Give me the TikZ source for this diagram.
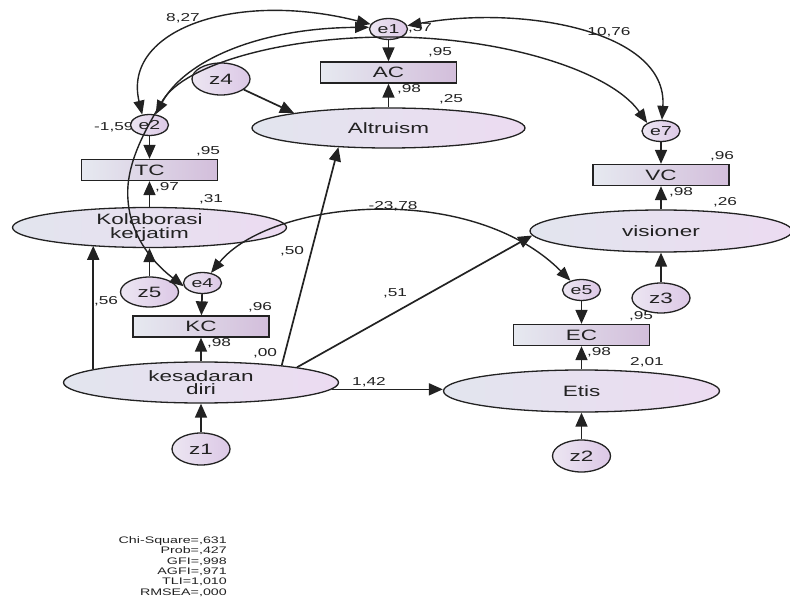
\documentclass[tikz,border=0pt]{standalone}
\usepackage{fontspec}
\usepackage{graphicx}
\setmainfont{Liberation Sans}
\usetikzlibrary{shapes.geometric,arrows.meta}

\definecolor{ink}{HTML}{222222}
\definecolor{latL}{HTML}{E2E5EE}
\definecolor{latR}{HTML}{ECDBF1}
\definecolor{boxL}{HTML}{E6E9F0}
\definecolor{boxR}{HTML}{D3BEDB}
\definecolor{errL}{HTML}{ECE6F2}
\definecolor{errR}{HTML}{DCC8E6}

% the labels of this diagram are set in a horizontally widened face
\newcommand{\hx}[1]{\scalebox{1.5}[1]{#1}}

\tikzset{
  latent/.style={ellipse, draw=ink, line width=1.3pt, left color=latL, right color=latR,
    inner sep=0pt, align=center, text=ink, font=\fontsize{15}{13.5}\selectfont},
  obsbox/.style={rectangle, draw=ink, line width=1.3pt, left color=boxL, right color=boxR,
    inner sep=0pt, minimum width=136pt, minimum height=21pt, text=ink,
    font=\fontsize{15}{15}\selectfont},
  errnode/.style={ellipse, draw=ink, line width=1.3pt, left color=errL, right color=errR,
    inner sep=0pt, minimum width=38pt, minimum height=21pt, text=ink,
    font=\fontsize{13}{13}\selectfont},
  distnode/.style={ellipse, draw=ink, line width=1.3pt, left color=errL, right color=errR,
    inner sep=0pt, minimum width=58pt, minimum height=32pt, text=ink,
    font=\fontsize{15}{15}\selectfont},
  coef/.style={text=ink, inner sep=0pt, font=\fontsize{11.5}{12}\selectfont},
  arr/.style={draw=ink, line width=1.7pt, -{Triangle[length=14pt,width=12pt]}},
  cov/.style={draw=ink, line width=1.4pt,
    {Triangle[length=14pt,width=11pt]}-{Triangle[length=14pt,width=11pt]}},
}

\begin{document}
\begin{tikzpicture}[x=1pt,y=-1pt]
\useasboundingbox (0,0) rectangle (790,604);

% path coefficients and variances
\node[coef] (l827) at (183,18) {\hx{8,27}};
\node[coef] (l1076) at (609,32) {\hx{10,76}};
\node[coef] (l37) at (420,28) {\hx{,37}};
\node[coef] (l95a) at (440,52) {\hx{,95}};
\node[coef] (l98a) at (409,89) {\hx{,98}};
\node[coef] (l25) at (451,99) {\hx{,25}};
\node[coef, anchor=west] (l159) at (94,127) {\hx{-1,59}};
\node[coef] (l95t) at (208,151) {\hx{,95}};
\node[coef] (l97) at (167,187) {\hx{,97}};
\node[coef] (l31) at (211,199) {\hx{,31}};
\node[coef] (l2378) at (393,206) {\hx{-23,78}};
\node[coef] (l50) at (292,251) {\hx{,50}};
\node[coef] (l56) at (106,301) {\hx{,56}};
\node[coef] (l96k) at (260,307) {\hx{,96}};
\node[coef] (l98k) at (219,343) {\hx{,98}};
\node[coef] (l00) at (265,353) {\hx{,00}};
\node[coef] (l51) at (395,293) {\hx{,51}};
\node[coef] (l96v) at (722,156) {\hx{,96}};
\node[coef] (l98v) at (681,192) {\hx{,98}};
\node[coef] (l26) at (725,202) {\hx{,26}};
\node[coef] (l95e) at (641,316) {\hx{,95}};
\node[coef] (l98e) at (599,352) {\hx{,98}};
\node[coef] (l201) at (647,362) {\hx{2,01}};
\node[coef] (l142) at (369,382) {\hx{1,42}};

% latent variables
\node[latent, minimum width=273pt, minimum height=40pt] (alt) at (388.5,128) {\hx{Altruism}};
\node[latent, minimum width=274pt, minimum height=40pt] (kol) at (149.5,227.5) {\hx{Kolaborasi}\\\hx{kerjatim}};
\node[latent, minimum width=275pt, minimum height=41pt] (kd) at (201,382.5) {\hx{kesadaran}\\\hx{diri}};
\node[latent, minimum width=276pt, minimum height=42pt] (etis) at (581.5,391) {\hx{Etis}};
\node[latent, minimum width=262pt, minimum height=42pt] (vis) at (661,231) {\hx{visioner}};

% observed indicators
\node[obsbox] (AC) at (388.5,72.5) {\hx{AC}};
\node[obsbox] (TC) at (149.5,170) {\hx{TC}};
\node[obsbox] (KC) at (201,326.5) {\hx{KC}};
\node[obsbox] (EC) at (581.5,335) {\hx{EC}};
\node[obsbox] (VC) at (661,175) {\hx{VC}};

% measurement errors
\node[errnode] (e1) at (388.5,29) {\hx{e1}};
\node[errnode] (e2) at (149.5,125) {\hx{e2}};
\node[errnode] (e4) at (202.5,283) {\hx{e4}};
\node[errnode] (e5) at (581.5,290) {\hx{e5}};
\node[errnode] (e7) at (661,131) {\hx{e7}};

% disturbances
\node[distnode] (z4) at (221,79) {\hx{z4}};
\node[distnode, minimum height=30pt] (z5) at (149.5,292) {\hx{z5}};
\node[distnode] (z1) at (201,449) {\hx{z1}};
\node[distnode] (z2) at (581.5,456) {\hx{z2}};
\node[distnode, minimum height=30pt] (z3) at (661,298) {\hx{z3}};

% indicator paths
\draw[arr] (e1) -- (AC);
\draw[arr] (alt) -- (AC);
\draw[arr] (e2) -- (TC);
\draw[arr] (kol) -- (TC);
\draw[arr] (e4) -- (KC);
\draw[arr] (kd) -- (KC);
\draw[arr] (e5) -- (EC);
\draw[arr] (etis) -- (EC);
\draw[arr] (e7) -- (VC);
\draw[arr] (vis) -- (VC);

% disturbance paths
\draw[arr] (z5) -- (kol);
\draw[arr] (z1) -- (kd);
\draw[arr] (z2) -- (etis);
\draw[arr] (z3) -- (vis);
\draw[arr] (z4) -- (alt.171.7);

% structural paths from kesadaran diri
\draw[arr] (kd.173.8) -- (kd.173.8 |- kol.196.8);
\draw[arr] (kd.12.7) -- (alt.201.5);
\draw[arr] (kd.9.6) -- (vis.182);
\draw[arr] (kd.-3.9) -- (kd.-3.9 -| etis.west);

% covariances between errors
\draw[cov] (e2.125) .. controls (122,30) and (235,-10) .. (e1.165);
\draw[cov] (e2.60) .. controls (185,60) and (260,28) .. (e1.175);
\draw[cov] (e1.10) .. controls (520,5) and (668,30) .. (e7.85);
\draw[cov] (e7.150) .. controls (610,70) and (500,37) .. (389,37)
  .. controls (280,37) and (185,65) .. (163,100)
  .. controls (145,130) and (125,165) .. (128,200)
  .. controls (131,245) and (165,272) .. (e4.190);
\draw[cov] (e4.50) .. controls (270,200) and (470,180) .. (e5.140);

% fit statistics
\node[text=ink, anchor=east, align=right, inner sep=0pt,
  font=\fontsize{9.5}{10.3}\selectfont] (fit) at (227,566.5)
  {\hx{Chi-Square=,631}\\\hx{Prob=,427}\\\hx{GFI=,998}\\\hx{AGFI=,971}\\\hx{TLI=1,010}\\\hx{RMSEA=,000}};
\end{tikzpicture}
\end{document}
